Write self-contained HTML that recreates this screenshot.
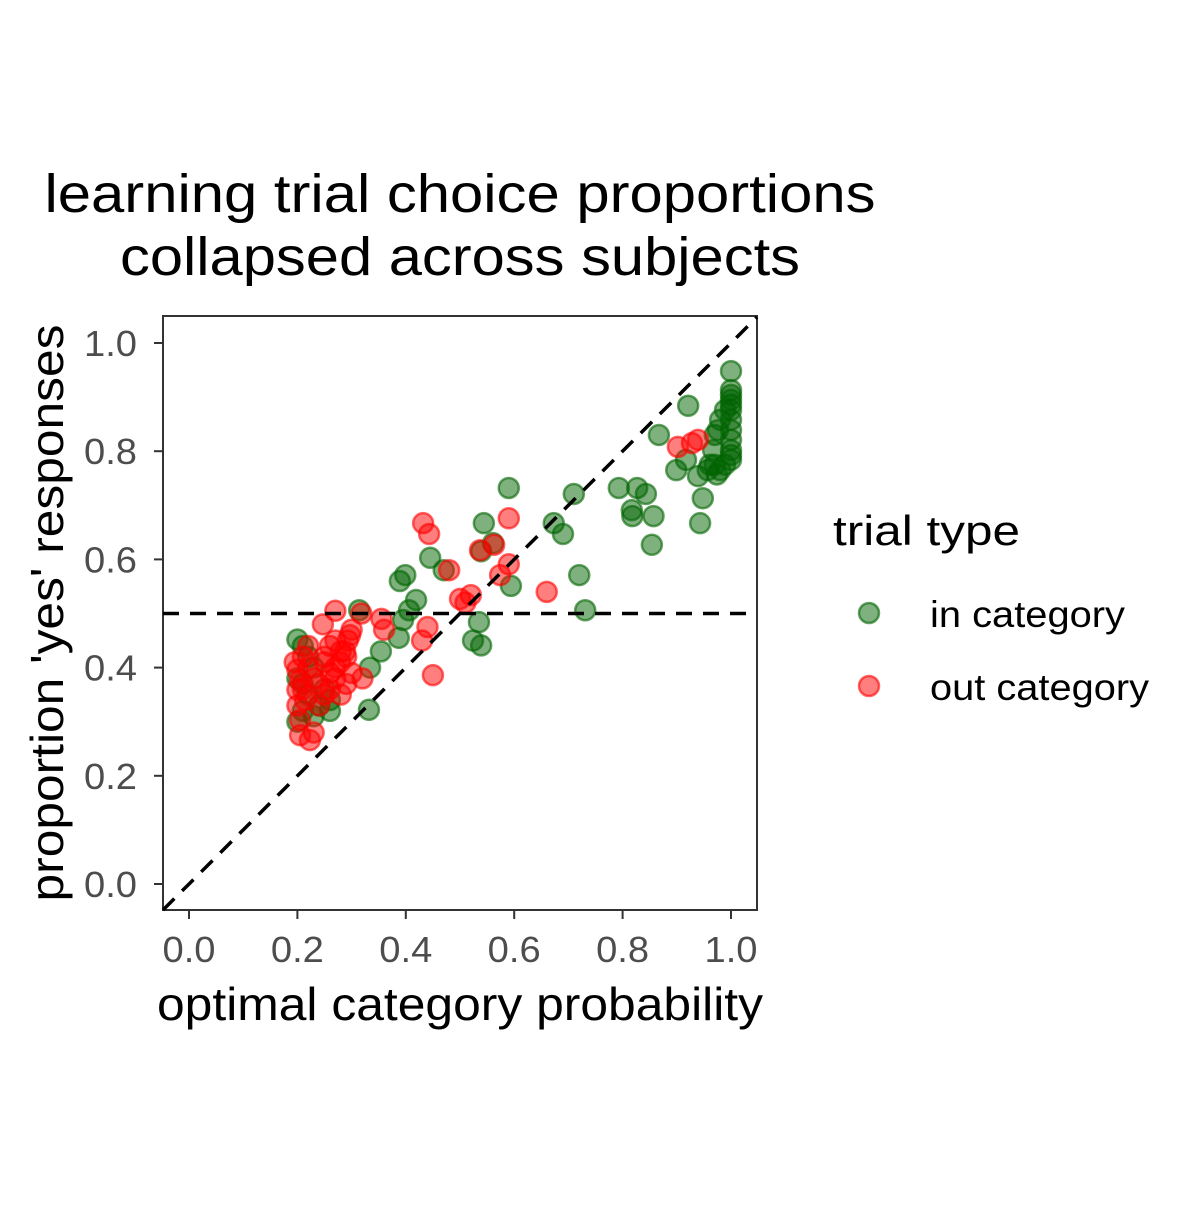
<!DOCTYPE html>
<html><head><meta charset="utf-8"><style>
body{margin:0;background:#fff}
svg text{font-family:"Liberation Sans",Arial,sans-serif}
</style></head><body>
<svg id="chart" width="1200" height="1200" viewBox="0 0 1200 1200" xmlns="http://www.w3.org/2000/svg">
<rect width="1200" height="1200" fill="#fff"/>
<text x="460" y="212" font-size="54" text-anchor="middle" textLength="831" lengthAdjust="spacingAndGlyphs">learning trial choice proportions</text>
<text x="460" y="275" font-size="54" text-anchor="middle" textLength="680" lengthAdjust="spacingAndGlyphs">collapsed across subjects</text>
<g id="plot"></g>
<text x="460" y="1020" font-size="46" text-anchor="middle" textLength="606" lengthAdjust="spacingAndGlyphs">optimal category probability</text>
<text transform="translate(63,613) rotate(-90)" font-size="46" text-anchor="middle" textLength="577" lengthAdjust="spacingAndGlyphs">proportion 'yes' responses</text>
<g>
<text x="833" y="545" font-size="42" textLength="187" lengthAdjust="spacingAndGlyphs">trial type</text>
<circle cx="869" cy="613" r="10" fill="rgba(0,100,0,0.5)" stroke="rgba(0,100,0,0.6)" stroke-width="2.5"/>
<text x="930" y="627" font-size="37" textLength="195" lengthAdjust="spacingAndGlyphs">in category</text>
<circle cx="869" cy="686" r="10" fill="rgba(255,0,0,0.5)" stroke="rgba(255,0,0,0.6)" stroke-width="2.5"/>
<text x="930" y="700" font-size="37" textLength="219" lengthAdjust="spacingAndGlyphs">out category</text>
</g>
</svg>
<script>
const xTicks=[0,0.2,0.4,0.6,0.8,1.0];
const yTicks=[0,0.2,0.4,0.6,0.8,1.0];
const tickLabels=["0.0","0.2","0.4","0.6","0.8","1.0"];
const inX=[1,1,1,1,1,1,1,1,1,1,1,1,0.989,0.98,0.976,0.97,0.967,0.97,0.98,0.989,0.961,0.957,0.974,0.921,0.867,0.917,0.899,0.939,0.948,0.943,0.793,0.827,0.843,0.817,0.818,0.857,0.854,0.59,0.71,0.673,0.69,0.72,0.731,0.544,0.539,0.561,0.594,0.535,0.539,0.524,0.445,0.47,0.389,0.399,0.419,0.406,0.395,0.387,0.314,0.354,0.334,0.332,0.2,0.21,0.22,0.23,0.2,0.21,0.25,0.26,0.24,0.22,0.21,0.2,0.23,0.26];
const inY=[0.948,0.913,0.904,0.895,0.886,0.876,0.858,0.839,0.821,0.802,0.793,0.784,0.876,0.858,0.839,0.83,0.802,0.775,0.765,0.775,0.775,0.765,0.757,0.884,0.83,0.784,0.765,0.754,0.713,0.667,0.732,0.732,0.721,0.691,0.68,0.68,0.627,0.732,0.721,0.667,0.647,0.571,0.506,0.667,0.615,0.63,0.551,0.484,0.441,0.45,0.603,0.58,0.56,0.571,0.525,0.506,0.488,0.455,0.506,0.43,0.4,0.322,0.452,0.44,0.42,0.4,0.38,0.37,0.36,0.34,0.33,0.35,0.32,0.3,0.31,0.32];
const outX=[0.939,0.928,0.902,0.432,0.443,0.59,0.563,0.537,0.574,0.59,0.66,0.48,0.5,0.52,0.51,0.44,0.43,0.45,0.36,0.355,0.318,0.27,0.247,0.297,0.293,0.288,0.279,0.27,0.26,0.205,0.223,0.205,0.214,0.2,0.205,0.2,0.195,0.21,0.22,0.23,0.24,0.25,0.26,0.27,0.28,0.29,0.3,0.32,0.25,0.24,0.23,0.2,0.21,0.28,0.27,0.3,0.26,0.22,0.25,0.29];
const outY=[0.821,0.815,0.808,0.667,0.647,0.676,0.627,0.617,0.571,0.591,0.54,0.58,0.527,0.534,0.52,0.475,0.45,0.386,0.47,0.49,0.5,0.505,0.48,0.46,0.45,0.43,0.41,0.38,0.36,0.275,0.266,0.303,0.34,0.359,0.377,0.396,0.41,0.42,0.4,0.38,0.37,0.42,0.44,0.4,0.43,0.42,0.39,0.38,0.35,0.33,0.28,0.33,0.36,0.35,0.45,0.47,0.39,0.44,0.41,0.37];
const L=163,R=757,T=316,B=910;
const sx=v=>189+v*542, sy=v=>884-v*541;
const NS="http://www.w3.org/2000/svg";
const g=document.getElementById('plot');
function mk(t,a){const e=document.createElementNS(NS,t);for(const k in a)e.setAttribute(k,a[k]);g.appendChild(e);return e;}
const frame=mk('rect',{x:L,y:T,width:R-L,height:B-T,fill:'none',stroke:'#333',"stroke-width":2});


xTicks.forEach((v,i)=>{
 const t=mk('line',{x1:sx(v),x2:sx(v),y1:B,y2:B+9,stroke:'#333',"stroke-width":2});
 
 
 const l=mk('text',{x:sx(v),y:B+52,"font-size":36,fill:'#4d4d4d',"text-anchor":'middle',textLength:53,lengthAdjust:'spacingAndGlyphs'});l.textContent=tickLabels[i];
 
 
});
yTicks.forEach((v,i)=>{
 const t=mk('line',{x1:L-9,x2:L,y1:sy(v),y2:sy(v),stroke:'#333',"stroke-width":2});
 
 
 const l=mk('text',{x:L-26,y:sy(v)+13,"font-size":36,fill:'#4d4d4d',"text-anchor":'end',textLength:53,lengthAdjust:'spacingAndGlyphs'});l.textContent=tickLabels[i];
 
 
});
function pts(xs,ys,f,s,name){xs.forEach((x,i)=>{
 const c=mk('circle',{cx:sx(x),cy:sy(ys[i]),r:10,fill:f,stroke:s,"stroke-width":2.5});
 
 
});}
pts(inX,inY,'rgba(0,100,0,0.5)','rgba(0,100,0,0.6)','point-in-category');
pts(outX,outY,'rgba(255,0,0,0.5)','rgba(255,0,0,0.6)','point-out-category');
const h=mk('line',{x1:L,x2:R,y1:sy(0.5),y2:sy(0.5),stroke:'#000',"stroke-width":3.5,"stroke-dasharray":'16,11'});


const d=mk('line',{x1:L,x2:R,y1:sy((L-189)/542),y2:sy((R-189)/542),stroke:'#000',"stroke-width":3.5,"stroke-dasharray":'16,11'});


</script>
</body></html>
